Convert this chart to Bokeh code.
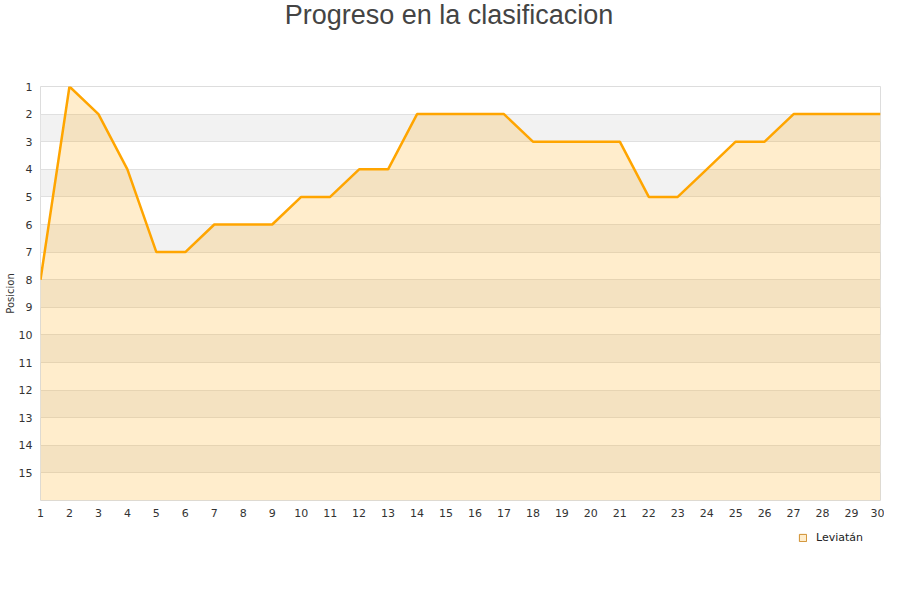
from bokeh.plotting import figure
from bokeh.models import Range1d, FixedTicker, Legend, LegendItem, Div
from bokeh.layouts import column
from bokeh.embed import file_html
from bokeh.resources import INLINE

jornadas = list(range(1, 31))
posiciones = [8, 1, 2, 4, 7, 7, 6, 6, 6, 5, 5, 4, 4, 2, 2, 2, 2, 3, 3, 3, 3, 5, 5, 4, 3, 3, 2, 2, 2, 2]
y_ticks = list(range(1, 16))
n_teams = 16
team = "Leviatán"
titulo = "Progreso en la clasificacion"

title_div = Div(text=titulo, width=898, height=30, margin=0,
                styles={"font-family": "Liberation Sans", "font-size": "27px", "color": "#444444",
                        "text-align": "center", "line-height": "30px", "white-space": "nowrap"})

p = figure(width=884, height=496, output_backend="svg", toolbar_location=None,
           x_range=Range1d(1, 30), y_range=Range1d(n_teams, 1),
           min_border_left=40, min_border_right=4, min_border_top=56, min_border_bottom=26)

p.varea(x=jornadas, y1=posiciones, y2=[n_teams] * len(jornadas), fill_color="#FFA500", fill_alpha=0.2)
p.line(x=jornadas, y=posiciones, line_color="#FFA500", line_width=2.5)

p.xaxis.ticker = FixedTicker(ticks=jornadas)
p.yaxis.ticker = FixedTicker(ticks=y_ticks)
for ax in (p.xaxis[0], p.yaxis[0]):
    ax.axis_line_color = None
    ax.major_tick_line_color = None
    ax.minor_tick_line_color = None
    ax.major_tick_out = 0
    ax.major_tick_in = 0
    ax.major_label_text_font = "DejaVu Sans"
    ax.major_label_text_font_size = "11px"
    ax.major_label_text_color = "#333333"
p.xaxis.major_label_standoff = 8
p.yaxis.major_label_standoff = 8
p.yaxis.axis_label = "Posicion"
p.yaxis.axis_label_text_font = "DejaVu Sans"
p.yaxis.axis_label_text_font_size = "10px"
p.yaxis.axis_label_text_font_style = "normal"
p.yaxis.axis_label_text_color = "#333333"
p.yaxis.axis_label_standoff = 0

p.xgrid.grid_line_color = None
p.ygrid.grid_line_color = "#e0e0e0"
p.ygrid.band_fill_color = "#f2f2f2"
p.ygrid.band_fill_alpha = 1.0
p.outline_line_color = "#dddddd"
p.background_fill_color = "white"

q = figure(width=884, height=50, output_backend="svg", toolbar_location=None,
           x_range=Range1d(0, 1), y_range=Range1d(0, 1),
           x_axis_type=None, y_axis_type=None, min_border=0,
           min_border_left=0, min_border_right=0, min_border_top=0, min_border_bottom=0)
q.outline_line_color = None
q.grid.visible = False
dummy = q.rect(x=[-10], y=[-10], width=1, height=1, fill_color="#FFEDCC", line_color="#D09030")
legend = Legend(items=[LegendItem(label=team, renderers=[dummy])], location=(758, 32),
                glyph_width=9, glyph_height=9, label_text_font="DejaVu Sans",
                label_text_font_size="11px", label_text_color="#222222",
                border_line_alpha=0, background_fill_alpha=0,
                padding=0, margin=0, label_standoff=9, label_height=13)
q.add_layout(legend, "center")

open("out.html", "w").write(file_html(column(title_div, p, q, spacing=0), INLINE))
